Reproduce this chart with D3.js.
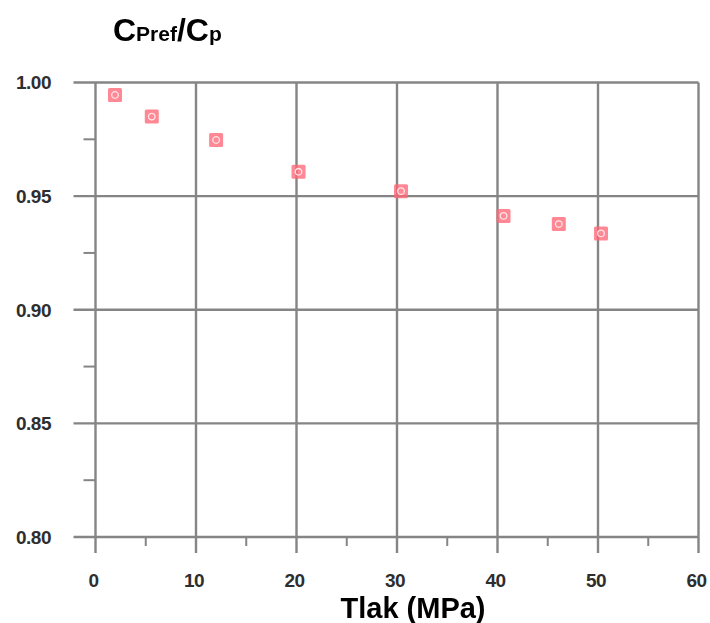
<!DOCTYPE html>
<html>
<head>
<meta charset="utf-8">
<script src="https://cdn.jsdelivr.net/npm/d3@7"></script>
<style>
html,body{margin:0;padding:0;background:#fff;}
svg{display:block;font-family:Arial,"Liberation Sans",Helvetica,sans-serif;}
</style>
</head>
<body>
<svg id="chart" width="710" height="623"></svg>
<script>
// Data
const pressure = [1.94, 5.6, 12.0, 20.2, 30.4, 40.6, 46.1, 50.3];
const ratio    = [0.9945, 0.985, 0.9747, 0.9607, 0.9522, 0.9413, 0.9377, 0.9336];
const xTicks = [0, 10, 20, 30, 40, 50, 60];
const xMinorTicks = [5, 15, 25, 35, 45, 55];
const yTicks = [0.80, 0.85, 0.90, 0.95, 1.00];
const yMinorTicks = [0.825, 0.875, 0.925, 0.975];
const xTitle = "Tlak (MPa)";

const svg = d3.select("#chart");
const x = d3.scaleLinear().domain([0, 60]).range([95.5, 698.5]);
const y = d3.scaleLinear().domain([0.80, 1.00]).range([537, 82.5]);

const defs = svg.append("defs");
defs.append("filter").attr("id", "soft").attr("x", "-50%").attr("y", "-50%")
  .attr("width", "200%").attr("height", "200%")
  .append("feGaussianBlur").attr("stdDeviation", 0.6);

const gridColor = "#858585";
const g = svg.append("g");

// horizontal grid lines (extend left as major ticks)
g.selectAll("line.hg").data(yTicks).join("line")
  .attr("x1", x(0) - 22).attr("x2", x(60))
  .attr("y1", d => y(d)).attr("y2", d => y(d))
  .attr("stroke", gridColor).attr("stroke-width", 2.4);

// vertical grid lines (extend below as major ticks)
g.selectAll("line.vg").data(xTicks).join("line")
  .attr("x1", d => x(d)).attr("x2", d => x(d))
  .attr("y1", y(1.00)).attr("y2", y(0.80) + 16)
  .attr("stroke", gridColor).attr("stroke-width", 2.4);

// minor ticks
g.selectAll("line.ym").data(yMinorTicks).join("line")
  .attr("x1", x(0) - 12).attr("x2", x(0))
  .attr("y1", d => y(d)).attr("y2", d => y(d))
  .attr("stroke", gridColor).attr("stroke-width", 2);
g.selectAll("line.xm").data(xMinorTicks).join("line")
  .attr("x1", d => x(d)).attr("x2", d => x(d))
  .attr("y1", y(0.80)).attr("y2", y(0.80) + 9)
  .attr("stroke", gridColor).attr("stroke-width", 2);

// y tick labels
g.selectAll("text.yl").data(yTicks).join("text")
  .attr("x", 51).attr("y", d => y(d)).attr("dy", "0.36em")
  .attr("text-anchor", "end")
  .attr("font-size", 19).attr("font-weight", "bold").attr("fill", "#2e2e2e")
  .attr("letter-spacing", -0.5)
  .text(d => d3.format(".2f")(d));

// x tick labels
g.selectAll("text.xl").data(xTicks).join("text")
  .attr("x", d => x(d) - 2).attr("y", 587)
  .attr("text-anchor", "middle")
  .attr("font-size", 19).attr("font-weight", "bold").attr("fill", "#2e2e2e")
  .attr("letter-spacing", -0.5)
  .text(d => d);

// markers
const pts = pressure.map((p, i) => ({p, r: ratio[i]}));
const m = svg.append("g").attr("filter", "url(#soft)").selectAll("g").data(pts).join("g")
  .attr("transform", d => `translate(${x(d.p)},${y(d.r)})`);
m.append("rect").attr("x", -7).attr("y", -7).attr("width", 14).attr("height", 14)
  .attr("rx", 1.5).attr("fill", "#ff6676").attr("opacity", 0.78);
m.append("circle").attr("r", 3.3).attr("fill", "none")
  .attr("stroke", "#ffe6e9").attr("stroke-width", 1.3);

// title (y-axis label)
const t = svg.append("text").attr("x", 113).attr("y", 41)
  .attr("font-weight", "bold").attr("fill", "#000");
t.append("tspan").attr("font-size", 32).text("C");
t.append("tspan").attr("font-size", 21).text("Pref");
t.append("tspan").attr("font-size", 32).text("/C");
t.append("tspan").attr("font-size", 21).text("p");

// x-axis title
svg.append("text").attr("x", 413).attr("y", 618)
  .attr("text-anchor", "middle").attr("font-size", 29).attr("font-weight", "bold")
  .attr("fill", "#000").text(xTitle);
</script>
</body>
</html>
